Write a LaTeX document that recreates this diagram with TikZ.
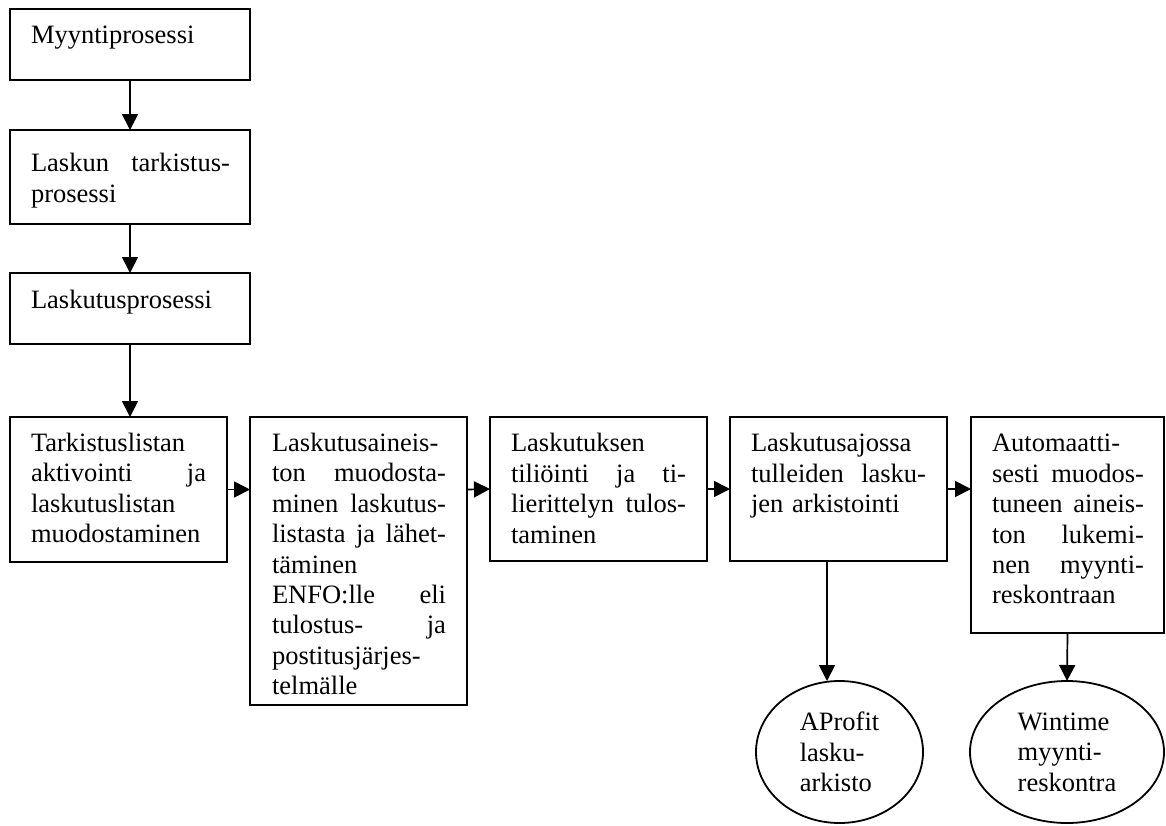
\documentclass[tikz,border=0pt]{standalone}
\usepackage{fontspec}
\setmainfont{Liberation Serif}
\usetikzlibrary{arrows.meta,shapes.geometric}

\newcommand\bodyfont{\fontsize{26.5}{30.4}\selectfont}
% a justified line: words separated by \hfill, spread over the given width
\newcommand\jl[2][175pt]{\leavevmode\hbox to #1{#2}}

\tikzset{
  box/.style={draw, rectangle, line width=1.8pt, inner sep=0pt, outer sep=0pt, anchor=north west},
  boxtext/.style={anchor=north west, inner sep=0pt, outer sep=0pt, align=left, font=\bodyfont,
                  execute at begin node=\setlength{\parindent}{0pt}},
  store/.style={draw, ellipse, line width=1.8pt, inner sep=0pt, outer sep=0pt, align=left, font=\bodyfont},
  arr/.style={line width=1.7pt, -{Triangle[length=16pt,width=16pt]}},
}

\begin{document}
\begin{tikzpicture}[x=1pt, y=-1pt]
\useasboundingbox (0,0) rectangle (1166,825);

% process boxes
\node[box, minimum width=240pt, minimum height=71pt]  (b1) at (10,9)   {};
\node[box, minimum width=240pt, minimum height=94pt]  (b2) at (10,130) {};
\node[box, minimum width=240pt, minimum height=71pt]  (b3) at (10,273) {};
\node[box, minimum width=217pt, minimum height=145pt] (b4) at (10,417) {};
\node[box, minimum width=217pt, minimum height=288pt] (b5) at (250,417) {};
\node[box, minimum width=217pt, minimum height=144pt] (b6) at (490,417) {};
\node[box, minimum width=217pt, minimum height=144pt] (b7) at (730,417) {};
\node[box, minimum width=193pt, minimum height=216pt] (b8) at (971,417) {};

% box texts
\node[boxtext, text width=199pt] (t1) at ([shift={(21,13.5)}]b1.north west)
  {\strut Myyntiprosessi};
\node[boxtext, text width=199pt] (t2) at ([shift={(21,20.4)}]b2.north west)
  {\strut\jl[199pt]{Laskun\hfill tarkistus-}\\prosessi};
\node[boxtext, text width=199pt] (t3) at ([shift={(21,14)}]b3.north west)
  {\strut Laskutusprosessi};
\node[boxtext, text width=175pt] (t4) at ([shift={(21,13.2)}]b4.north west)
  {\strut Tarkistuslistan\\\jl{aktivointi\hfill ja}\\laskutuslistan\\muodostaminen};
\node[boxtext, text width=174pt] (t5) at ([shift={(22,13.2)}]b5.north west)
  {\strut Laskutusaineis-\\\jl[174pt]{ton\hfill muodosta-}\\\jl[174pt]{minen\hfill laskutus-}\\\jl[174pt]{listasta\hfill ja\hfill lähet-}\\täminen\\\jl[174pt]{ENFO:lle\hfill eli}\\\jl[174pt]{tulostus-\hfill ja}\\postitusjärjes-\\telmälle};
\node[boxtext, text width=175pt] (t6) at ([shift={(21,13.6)}]b6.north west)
  {\strut Laskutuksen\\\jl{tiliöinti\hfill ja\hfill ti-}\\\jl{lierittelyn\hfill tulos-}\\taminen};
\node[boxtext, text width=175pt] (t7) at ([shift={(21,13.6)}]b7.north west)
  {\strut Laskutusajossa\\\jl{tulleiden\hfill lasku-}\\jen arkistointi};
\node[boxtext, text width=152pt] (t8) at ([shift={(21,13.6)}]b8.north west)
  {\strut Automaatti-\\\jl[152pt]{sesti\hfill muodos-}\\\jl[152pt]{tuneen\hfill aineis-}\\\jl[152pt]{ton\hfill lukemi-}\\\jl[152pt]{nen\hfill myynti-}\\reskontraan};

% data stores
\node[store, minimum width=167pt, minimum height=142pt] (ap) at (839.5,752) {AProfit\\lasku-\\arkisto};
\node[store, minimum width=194pt, minimum height=142pt] (wt) at (1067,752) {Wintime\\myynti-\\reskontra};

% flow
\draw[arr] (b1.south) -- (b2.north);
\draw[arr] (b2.south) -- (b3.north);
\draw[arr] (b3.south) -- (b3.south |- b4.north);
\draw[arr] (b4.east) -- (b4.east -| b5.west);
\draw[arr] (b4.east -| b5.east) -- (b6.west);
\draw[arr] (b6.east) -- (b7.west);
\draw[arr] (b7.east) -- (b7.east -| b8.west);
\draw[arr] ([xshift=97pt]b7.south west) -- ([xshift=97pt]b7.south west |- ap.north);
\draw[arr] (b8.south) -- (wt.north);
\end{tikzpicture}
\end{document}
